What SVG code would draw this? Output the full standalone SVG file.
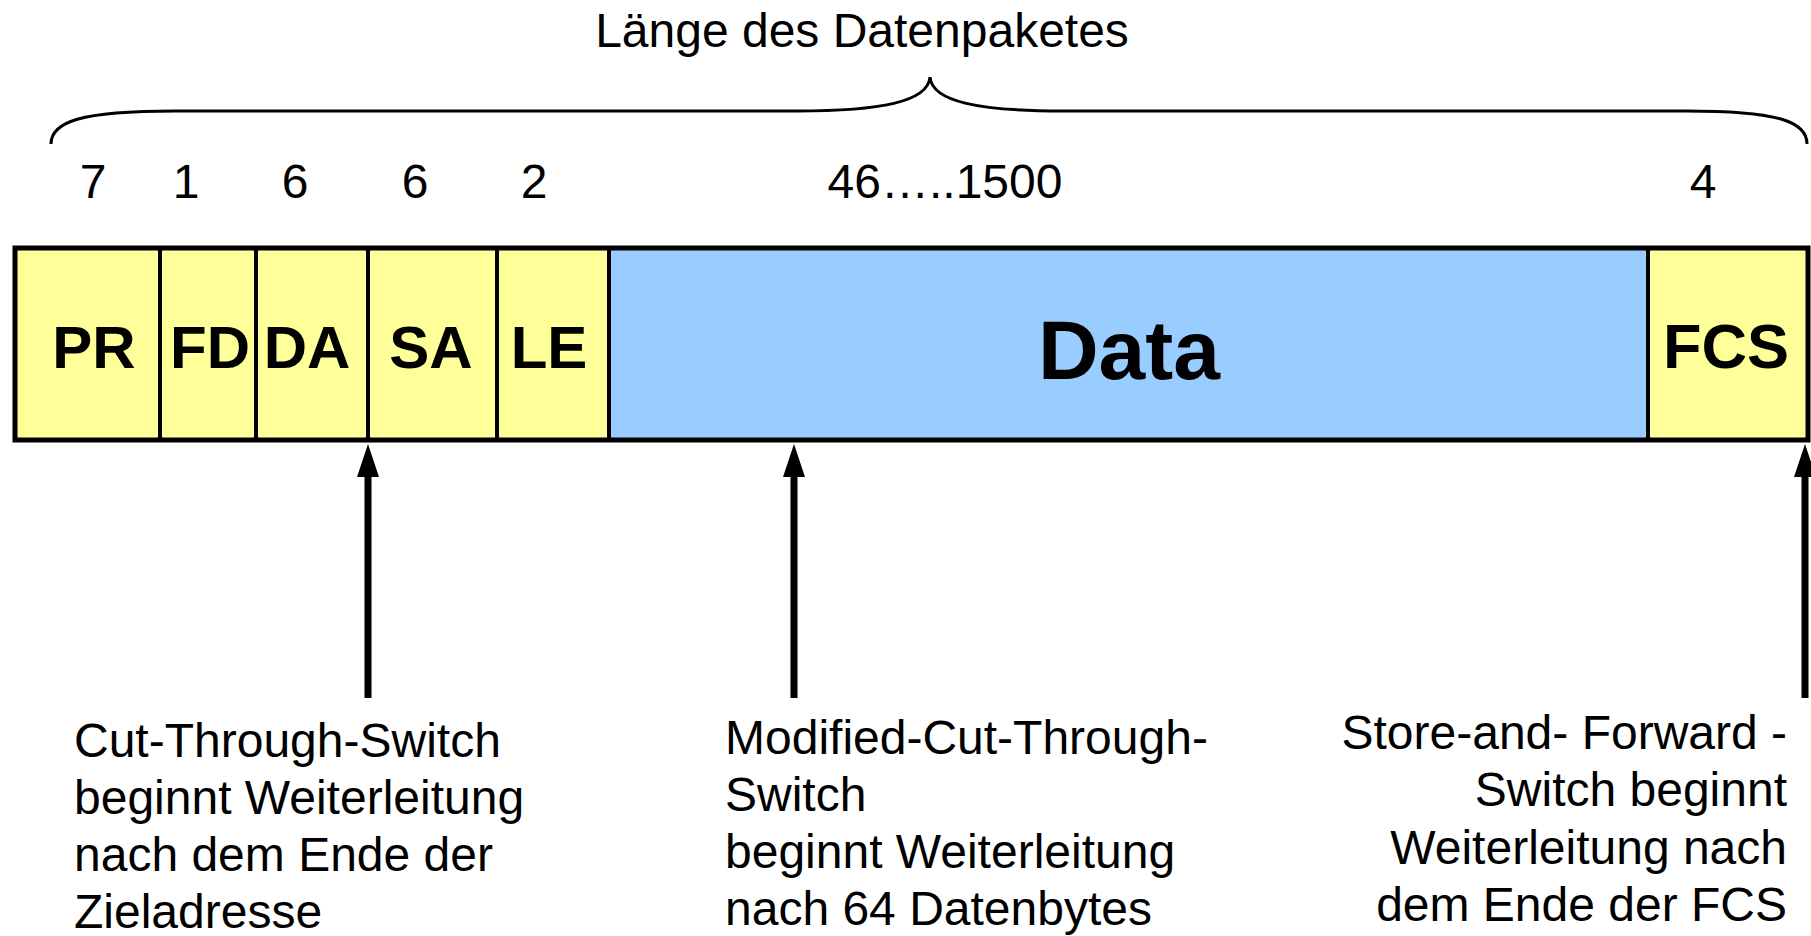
<svg xmlns="http://www.w3.org/2000/svg" width="1811" height="936" viewBox="0 0 1811 936">
<style>
.cellY{fill:#FFFF99;stroke:#000;stroke-width:4}
.cellB{fill:#99CCFF;stroke:#000;stroke-width:4}
.lbl{font-family:"Liberation Sans",Arial,sans-serif;font-weight:bold;font-size:60px;fill:#000;text-anchor:middle}
.num{font-family:"Liberation Sans",Arial,sans-serif;font-size:48px;fill:#000;text-anchor:middle}
.txt{font-family:"Liberation Sans",Arial,sans-serif;font-size:48px;fill:#000}
.conn{stroke:#000;stroke-width:7;fill:none;marker-end:url(#ah)}
.brace{stroke:#000;stroke-width:3;fill:none}
</style>
<defs>
<marker id="ah" markerUnits="userSpaceOnUse" markerWidth="34" markerHeight="24" refX="0" refY="11" orient="auto" viewBox="0 0 34 22">
<path d="M0,0 L33,11 L0,22 z" fill="#000"/>
</marker>
</defs>
<rect width="1811" height="936" fill="#fff"/>
<g id="title">
<text class="txt" x="862" y="47" text-anchor="middle">Länge des Datenpaketes</text>
<path class="brace" d="M51,144 C51,122 80,111 175,111 L797,111 C880,111 928,102 930,77 C932,102 980,111 1063,111 L1686,111 C1780,111 1807,122 1807,144"/>
</g>
<g id="numbers">
<text class="num" x="93" y="198">7</text>
<text class="num" x="186" y="198">1</text>
<text class="num" x="295" y="198">6</text>
<text class="num" x="415" y="198">6</text>
<text class="num" x="534" y="198">2</text>
<text class="num" x="945" y="198">46…..1500</text>
<text class="num" x="1703" y="198">4</text>
</g>
<g id="PR"><rect class="cellY" x="15" y="248" width="145" height="192"/><text class="lbl" x="94" y="368">PR</text></g>
<g id="FD"><rect class="cellY" x="160" y="248" width="96" height="192"/><text class="lbl" x="210" y="368">FD</text></g>
<g id="DA"><rect class="cellY" x="256" y="248" width="112" height="192"/><text class="lbl" x="307" y="368">DA</text></g>
<g id="SA"><rect class="cellY" x="368" y="248" width="129" height="192"/><text class="lbl" x="431" y="368">SA</text></g>
<g id="LE"><rect class="cellY" x="497" y="248" width="112" height="192"/><text class="lbl" x="549" y="368">LE</text></g>
<g id="Data"><rect class="cellB" x="609" y="248" width="1039" height="192"/><text class="lbl" x="1129" y="379" style="font-size:84px">Data</text></g>
<g id="FCS"><rect class="cellY" x="1648" y="248" width="160" height="192"/><text class="lbl" x="1726" y="368" style="font-size:63px">FCS</text></g>
<rect x="15" y="248" width="1793" height="192" fill="none" stroke="#000" stroke-width="5"/>
<g id="connectors">
<line class="conn" x1="368" y1="698" x2="368" y2="477"/>
<line class="conn" x1="794" y1="698" x2="794" y2="477"/>
<line class="conn" x1="1805" y1="698" x2="1805" y2="477"/>
</g>
<g id="note-cut-through">
<text class="txt" x="74" y="757">Cut-Through-Switch</text>
<text class="txt" x="74" y="814">beginnt Weiterleitung</text>
<text class="txt" x="74" y="871">nach dem Ende der</text>
<text class="txt" x="74" y="928">Zieladresse</text>
</g>
<g id="note-modified">
<text class="txt" x="725" y="754">Modified-Cut-Through-</text>
<text class="txt" x="725" y="811">Switch</text>
<text class="txt" x="725" y="868">beginnt Weiterleitung</text>
<text class="txt" x="725" y="925">nach 64 Datenbytes</text>
</g>
<g id="note-store-forward">
<text class="txt" x="1787" y="749" text-anchor="end">Store-and- Forward -</text>
<text class="txt" x="1787" y="806" text-anchor="end">Switch beginnt</text>
<text class="txt" x="1787" y="864" text-anchor="end">Weiterleitung nach</text>
<text class="txt" x="1787" y="921" text-anchor="end">dem Ende der FCS</text>
</g>
</svg>
